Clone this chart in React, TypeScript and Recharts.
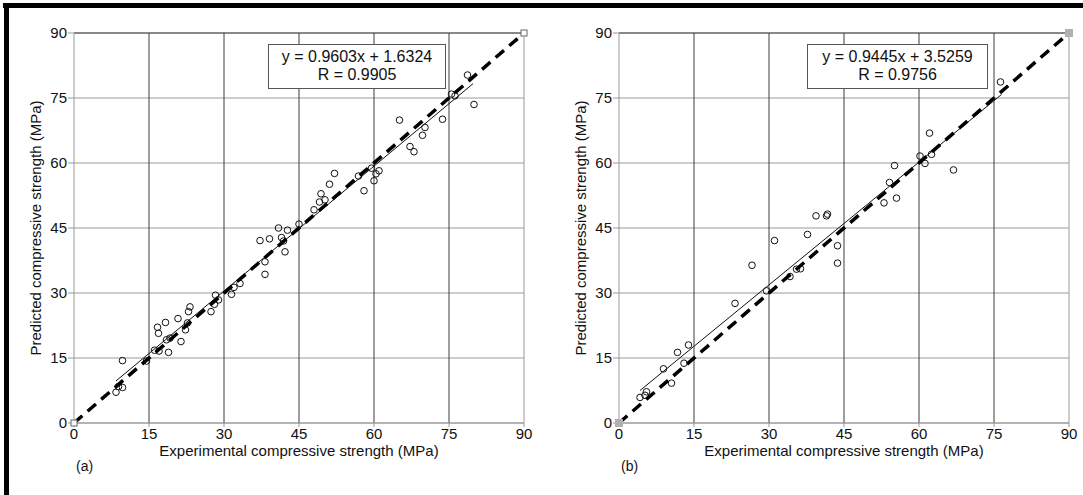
import { ScatterChart, Scatter, XAxis, YAxis, CartesianGrid, ReferenceLine } from 'recharts';

const axisTicks = [0, 15, 30, 45, 60, 75, 90];
const innerTicks = [15, 30, 45, 60, 75];

// panel (a)
const pointsA = [
    { x: 8.4, y: 7.1 }, { x: 8.9, y: 8.4 }, { x: 9.7, y: 8.2 }, { x: 9.7, y: 14.4 },
    { x: 14.5, y: 14.3 }, { x: 16.1, y: 16.8 }, { x: 17, y: 16.6 }, { x: 18.9, y: 16.3 },
    { x: 16.7, y: 22.1 }, { x: 16.9, y: 20.7 }, { x: 18.3, y: 23.2 }, { x: 18.5, y: 19.2 },
    { x: 19.2, y: 19.6 }, { x: 20.8, y: 24.1 }, { x: 21.4, y: 18.8 }, { x: 22.3, y: 21.5 },
    { x: 22.7, y: 23.1 }, { x: 22.9, y: 25.7 }, { x: 23.2, y: 26.8 }, { x: 27.4, y: 25.7 },
    { x: 28.1, y: 27.4 }, { x: 28.3, y: 29.5 }, { x: 28.9, y: 28.4 }, { x: 31.5, y: 29.7 },
    { x: 32, y: 31.3 }, { x: 33.2, y: 32.2 }, { x: 38.2, y: 34.3 }, { x: 38.2, y: 37.2 },
    { x: 37.2, y: 42.1 }, { x: 39.1, y: 42.5 }, { x: 40.9, y: 45 }, { x: 41.5, y: 42.8 },
    { x: 41.9, y: 42 }, { x: 42.2, y: 39.5 }, { x: 42.7, y: 44.5 }, { x: 45, y: 45.9 },
    { x: 48, y: 49.2 }, { x: 49.1, y: 51 }, { x: 49.4, y: 52.9 }, { x: 50.2, y: 51.5 },
    { x: 51.1, y: 55.1 }, { x: 52.1, y: 57.6 }, { x: 56.9, y: 57 }, { x: 58, y: 53.6 },
    { x: 59.5, y: 58.8 }, { x: 60, y: 55.9 }, { x: 60.4, y: 57.5 }, { x: 61, y: 58.2 },
    { x: 65.1, y: 69.9 }, { x: 67.2, y: 63.8 }, { x: 68, y: 62.6 }, { x: 69.7, y: 66.4 },
    { x: 70.2, y: 68.2 }, { x: 73.7, y: 70.1 }, { x: 75.5, y: 75.9 }, { x: 76.2, y: 75.5 },
    { x: 78.7, y: 80.3 }, { x: 80, y: 73.5 },
];
const fitA = [{ x: 8.4, y: 9.7 }, { x: 79.8, y: 78.3 }];
const legendA = ['y = 0.9603x + 1.6324', 'R = 0.9905'];

// panel (b)
const pointsB = [
    { x: 4.2, y: 5.9 }, { x: 5.2, y: 6.4 }, { x: 5.5, y: 7.2 }, { x: 8.9, y: 12.5 },
    { x: 10.5, y: 9.2 }, { x: 11.7, y: 16.3 }, { x: 13, y: 13.8 }, { x: 13.9, y: 18 },
    { x: 23.2, y: 27.6 }, { x: 26.6, y: 36.4 }, { x: 29.5, y: 30.5 }, { x: 31.1, y: 42.1 },
    { x: 34.2, y: 33.8 }, { x: 35.5, y: 35.5 }, { x: 36.3, y: 35.6 }, { x: 37.7, y: 43.5 },
    { x: 39.4, y: 47.8 }, { x: 41.5, y: 47.8 }, { x: 41.7, y: 48.2 }, { x: 43.7, y: 40.9 },
    { x: 43.7, y: 36.9 }, { x: 53, y: 50.8 }, { x: 54.1, y: 55.5 }, { x: 55.1, y: 59.4 },
    { x: 55.5, y: 51.9 }, { x: 60.2, y: 61.6 }, { x: 61.2, y: 59.9 }, { x: 62.5, y: 62 },
    { x: 62.1, y: 66.9 }, { x: 66.9, y: 58.4 }, { x: 76.3, y: 78.7 },
];
const fitB = [{ x: 4.2, y: 7.5 }, { x: 76.5, y: 75.8 }];
const legendB = ['y = 0.9445x + 3.5259', 'R = 0.9756'];

const diagonal = [{ x: 0, y: 0 }, { x: 90, y: 90 }];

const font = '"Liberation Sans", Arial, sans-serif';

const OpenCircle = (p: any) => (
    <circle cx={p.cx} cy={p.cy} r={3.3} fill="none" stroke="#111" strokeWidth={1} />
);
const NoDot = () => <g />;
const OpenSquare = (p: any) => (
    <rect x={p.cx - 3} y={p.cy - 3} width={6} height={6} fill="#fff" stroke="#666" strokeWidth={1} />
);
const GraySquare = (p: any) => (
    <rect x={p.cx - 4} y={p.cy - 4} width={8} height={8} fill="#b0b0b0" />
);

interface PanelProps {
    left: number;
    width: number;
    points: Array<{ x: number; y: number }>;
    fit: Array<{ x: number; y: number }>;
    legend: string[];
    boxLeft: number;
    boxWidth: number;
    tag: string;
    endShape: any;
}

function Panel({ left, width, points, fit, legend, boxLeft, boxWidth, tag, endShape }: PanelProps) {
    return (
        <div style={{ position: 'absolute', left, top: 0, width, height: 495 }}>
            <ScatterChart
                width={width}
                height={495}
                margin={{ top: 33, right: width - 524, bottom: 42, left: 20 }}
            >
                <CartesianGrid vertical={false} stroke="#9a9a9a" />
                {innerTicks.map((t) => (
                    <ReferenceLine key={t} x={t} stroke="#3c3c3c" strokeWidth={1} />
                ))}
                <ReferenceLine x={90} stroke="#9a9a9a" />
                <ReferenceLine y={90} stroke="#444" />
                <XAxis
                    type="number"
                    dataKey="x"
                    domain={[0, 90]}
                    ticks={axisTicks}
                    height={30}
                    tickSize={4}
                    tickMargin={1}
                    stroke="#9a9a9a"
                    tick={{ fill: '#111', fontSize: 15 }}
                />
                <YAxis
                    type="number"
                    dataKey="y"
                    domain={[0, 90]}
                    ticks={axisTicks}
                    width={54}
                    tickSize={6}
                    tickMargin={1}
                    stroke="#9a9a9a"
                    tick={{ fill: '#111', fontSize: 15 }}
                />
                <Scatter data={points} shape={OpenCircle} isAnimationActive={false} />
                <Scatter
                    data={fit}
                    shape={NoDot}
                    line={{ stroke: '#111', strokeWidth: 1 }}
                    isAnimationActive={false}
                />
                <Scatter
                    data={diagonal}
                    shape={endShape}
                    line={{ stroke: '#000', strokeWidth: 3.5, strokeDasharray: '11 7' }}
                    isAnimationActive={false}
                />
            </ScatterChart>
            <div
                style={{
                    position: 'absolute',
                    left: boxLeft,
                    top: 44,
                    width: boxWidth,
                    height: 45,
                    boxSizing: 'border-box',
                    border: '1.5px solid #555',
                    background: '#fff',
                    fontSize: 16,
                    lineHeight: '18px',
                    textAlign: 'center',
                    paddingTop: 3,
                    color: '#111',
                }}
            >
                {legend.map((l) => (
                    <div key={l}>{l}</div>
                ))}
            </div>
            <div
                style={{
                    position: 'absolute',
                    left: 35,
                    top: 228,
                    transform: 'translate(-50%, -50%) rotate(-90deg)',
                    whiteSpace: 'nowrap',
                    fontSize: 15,
                    color: '#111',
                }}
            >
                Predicted compressive strength (MPa)
            </div>
            <div
                style={{
                    position: 'absolute',
                    left: 299,
                    top: 450,
                    transform: 'translate(-50%, -50%)',
                    whiteSpace: 'nowrap',
                    fontSize: 15,
                    color: '#111',
                }}
            >
                Experimental compressive strength (MPa)
            </div>
            <div style={{ position: 'absolute', left: 76, top: 458, fontSize: 14, color: '#111' }}>{tag}</div>
        </div>
    );
}

export default function App() {
    return (
        <div
            style={{
                position: 'fixed',
                left: 0,
                top: 0,
                width: 1083,
                height: 495,
                overflow: 'hidden',
                background: '#fff',
                fontFamily: font,
            }}
        >
            <Panel
                left={0}
                width={540}
                points={pointsA}
                fit={fitA}
                legend={legendA}
                boxLeft={268}
                boxWidth={178}
                tag="(a)"
                endShape={OpenSquare}
            />
            <Panel
                left={545}
                width={538}
                points={pointsB}
                fit={fitB}
                legend={legendB}
                boxLeft={262}
                boxWidth={181}
                tag="(b)"
                endShape={GraySquare}
            />
            <div style={{ position: 'absolute', left: 3, top: 3, width: 1080, height: 5, background: '#000' }} />
            <div style={{ position: 'absolute', left: 4, top: 3, width: 5, height: 492, background: '#000' }} />
        </div>
    );
}
